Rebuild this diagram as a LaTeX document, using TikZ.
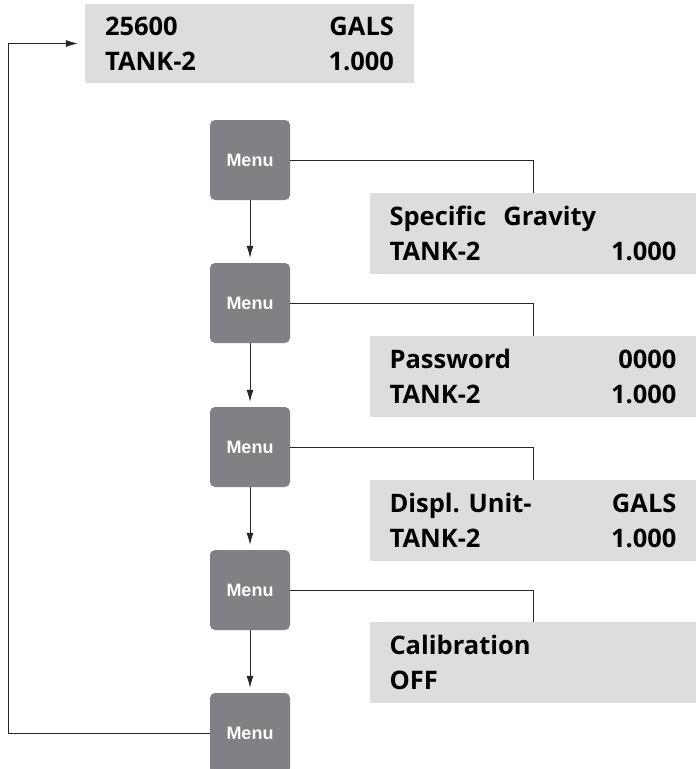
\documentclass[tikz,border=0pt]{standalone}
\usepackage{fontspec}
\setmainfont{Open Sans}
\newfontfamily\menufont{Liberation Sans}
\usetikzlibrary{arrows.meta}
\definecolor{menugray}{HTML}{808185}
\definecolor{dispgray}{HTML}{DCDDDF}

\begin{document}
\begin{tikzpicture}[x=1pt,y=-1pt]
		\useasboundingbox (0,0) rectangle (696,769);
		
		\tikzstyle{menubox}=[rectangle,
		rounded corners=5pt,
		fill=menugray,
		text=white,
		inner sep=0pt,
		minimum width=80pt,
		minimum height=80pt,
		font=\menufont\bfseries\fontsize{18}{20}\selectfont
		]
		\tikzstyle{display}=[rectangle,
		fill=dispgray,
		inner sep=0pt,
		minimum width=326pt,
		minimum height=81pt,
		text width=287pt,
		align=left,
		font=\frenchspacing\bfseries\fontsize{25.5}{35}\selectfont
		]
		\tikzstyle{wire}=[draw=black!85, line width=0.8pt]
		\tikzstyle{flow}=[wire, -{Latex[length=12pt,width=7pt]}]
		
		\coordinate (ptop) at (249.5, 43.5);
		
		\coordinate (pm1) at (250, 160);
		\coordinate (pm2) at (250, 303);
		\coordinate (pm3) at (250, 447);
		\coordinate (pm4) at (250, 590);
		\coordinate (pm5) at (250, 733);
		
		\coordinate (pd1) at (533, 233.5);
		\coordinate (pd2) at (533, 376.5);
		\coordinate (pd3) at (533, 520.5);
		\coordinate (pd4) at (533, 662.5);
		
		\coordinate (pret) at (8, 733);
		
		\node[display, minimum width=329pt, minimum height=79pt, text width=289pt] (top) at (ptop) {25600\hfill GALS\\TANK-2\hfill 1.000};
		
		\node[menubox] (m1) at (pm1) {Menu};
		\node[menubox] (m2) at (pm2) {Menu};
		\node[menubox] (m3) at (pm3) {Menu};
		\node[menubox] (m4) at (pm4) {Menu};
		\node[menubox] (m5) at (pm5) {Menu};
		
		\node[display] (d1) at (pd1) {Specific~~Gravity\\TANK-2\hfill 1.000};
		\node[display] (d2) at (pd2) {Password\hfill 0000\\TANK-2\hfill 1.000};
		\node[display] (d3) at (pd3) {Displ. Unit-\hfill GALS\\TANK-2\hfill 1.000};
		\node[display] (d4) at (pd4) {Calibration\\OFF};
		
		\draw[flow, shorten >=5pt] (m1) -- (m2);
		\draw[flow, shorten >=5pt] (m2) -- (m3);
		\draw[flow, shorten >=5pt] (m3) -- (m4);
		\draw[flow, shorten >=5pt] (m4) -- (m5);
		
		\draw[wire] (m1.east) -| (d1.north);
		\draw[wire] (m2.east) -| (d2.north);
		\draw[wire] (m3.east) -| (d3.north);
		\draw[wire] (m4.east) -| (d4.north);
		
		\draw[flow, shorten >=7pt] (m5.west) -- (pret) |- (top.west);
		
\end{tikzpicture}
\end{document}
